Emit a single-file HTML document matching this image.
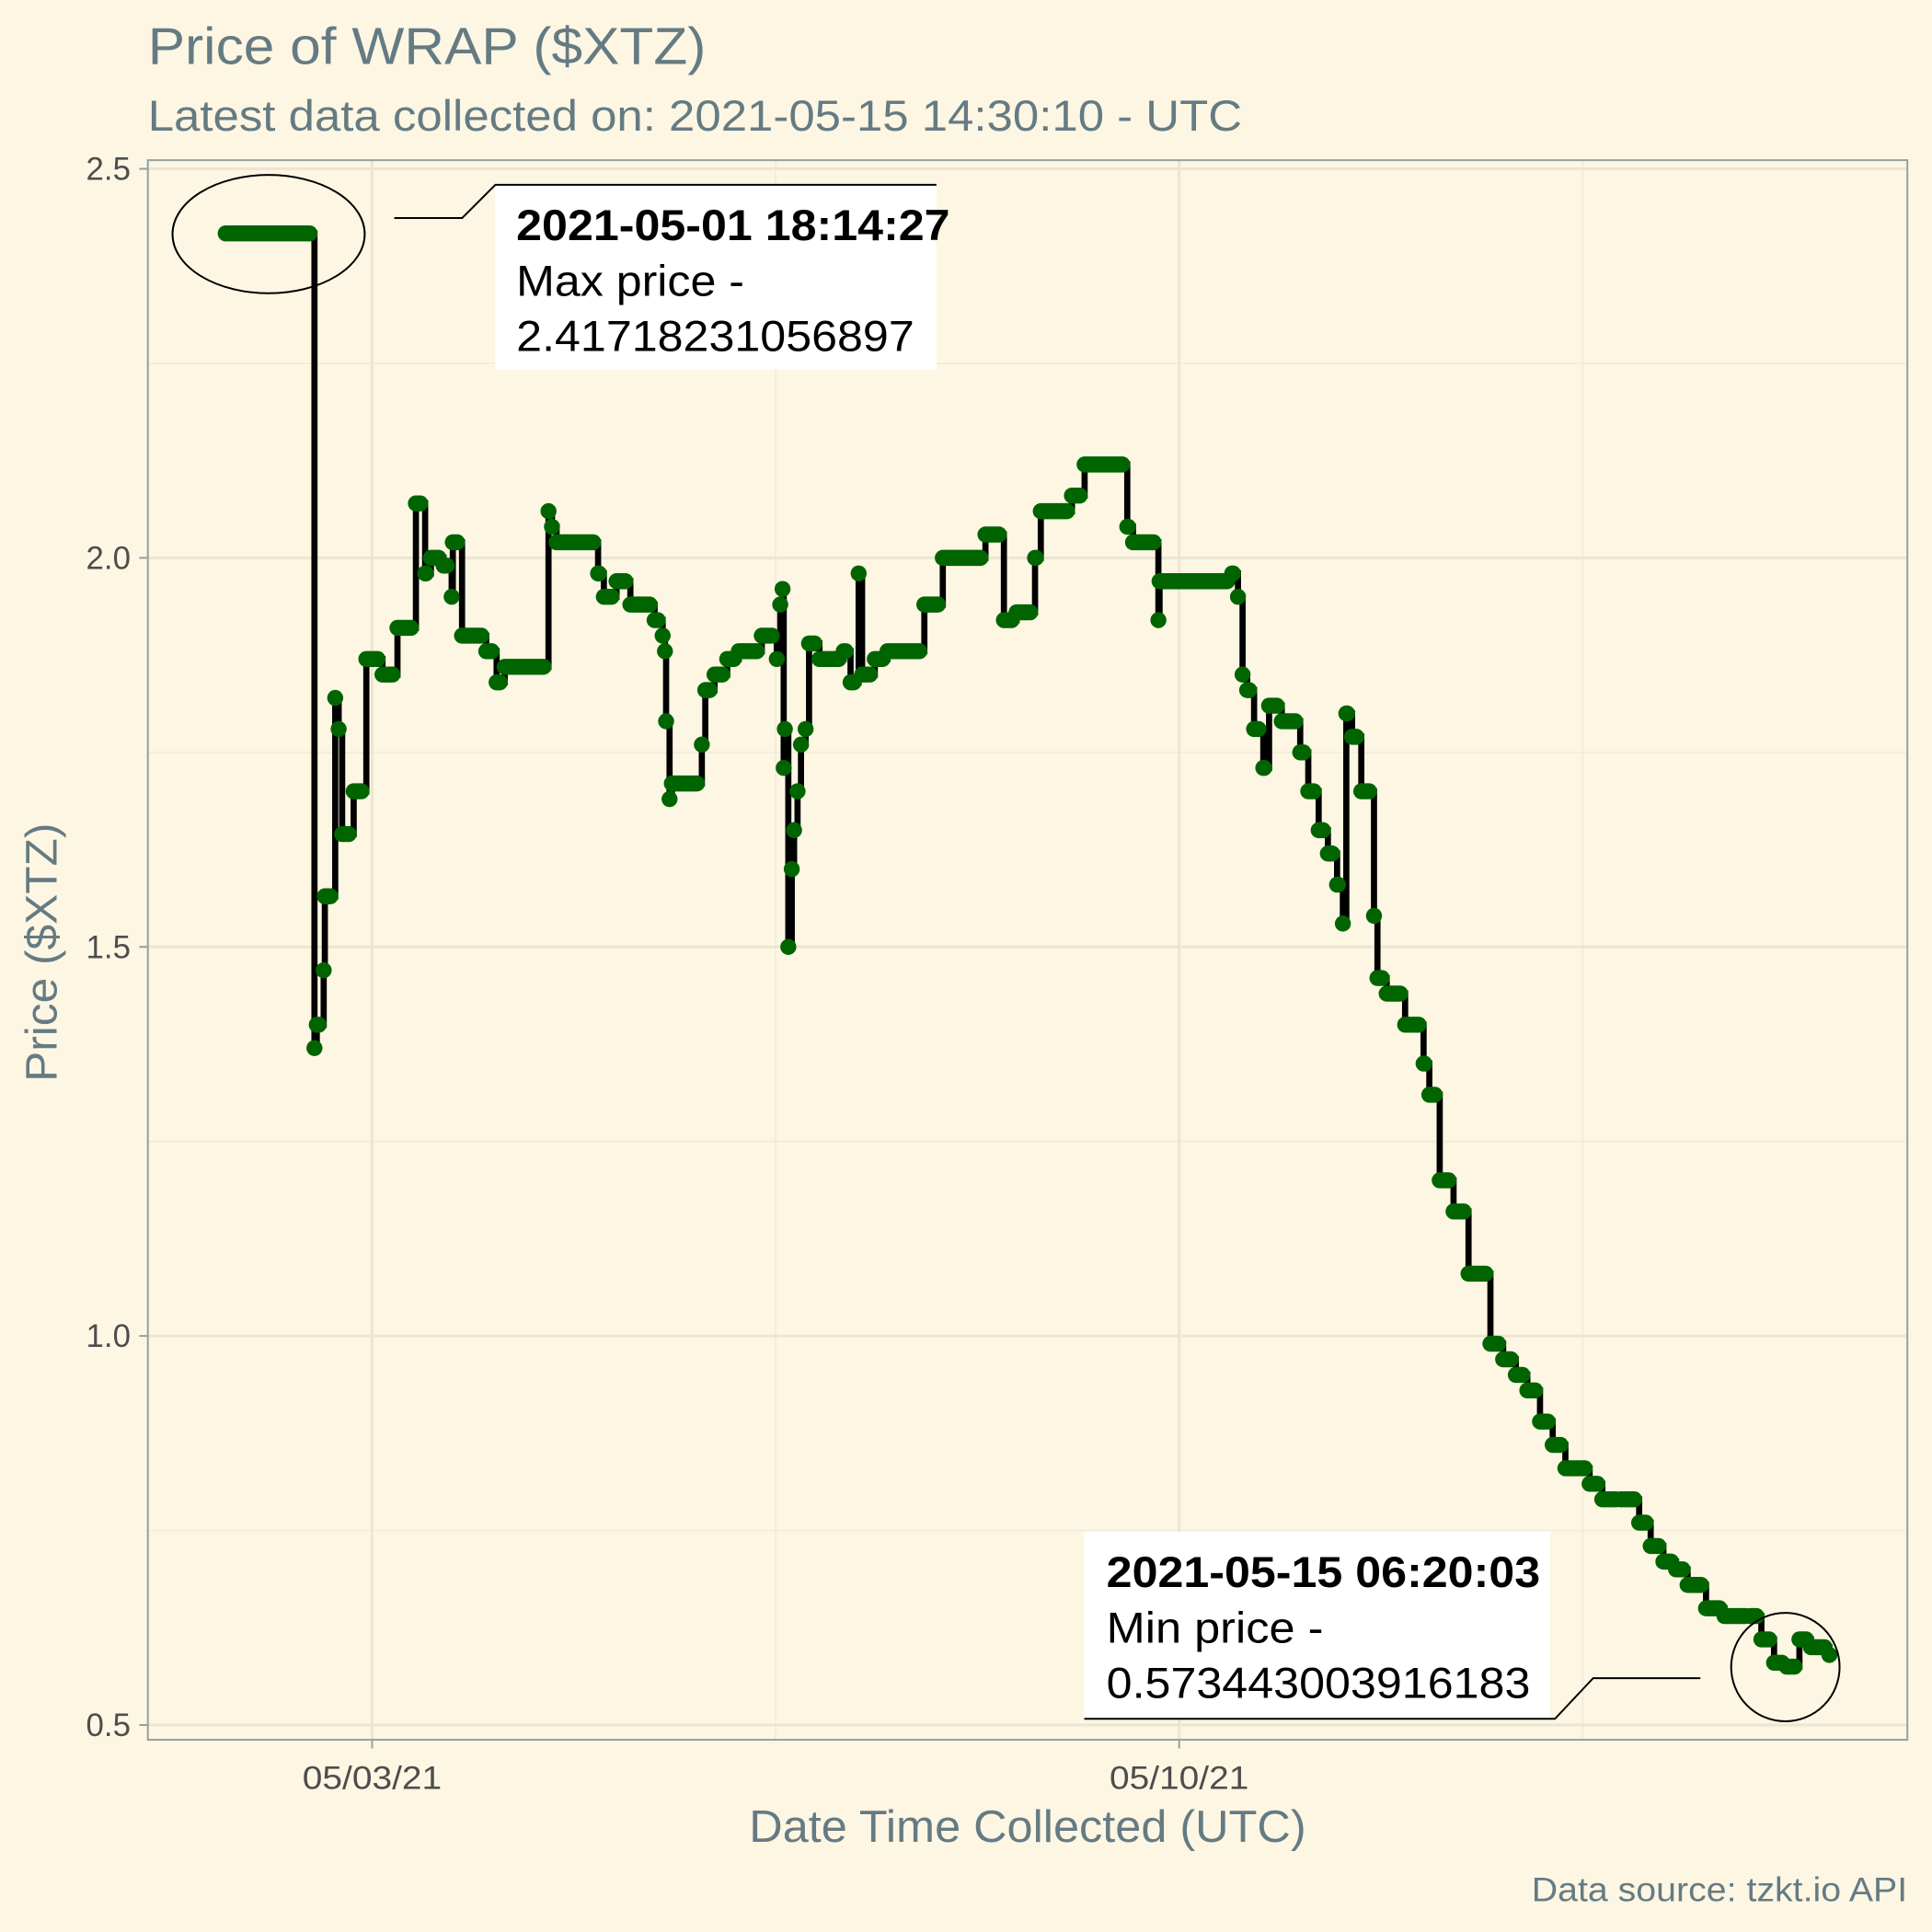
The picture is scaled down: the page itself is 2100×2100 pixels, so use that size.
<!DOCTYPE html>
<html><head><meta charset="utf-8"><style>
html,body{margin:0;padding:0;background:#fdf6e3;}
svg{display:block;font-family:"Liberation Sans",Arial,sans-serif;}
</style></head><body>
<svg id="chart" width="2100" height="2100" viewBox="0 0 1568 1568" xmlns="http://www.w3.org/2000/svg">
<rect x="0" y="0" width="1568" height="1568" fill="#fdf6e3"/>
<text x="120" y="52" font-size="42" fill="#657b83" textLength="453" lengthAdjust="spacingAndGlyphs">Price of WRAP ($XTZ)</text>
<text x="120" y="106" font-size="35" fill="#657b83" textLength="888" lengthAdjust="spacingAndGlyphs">Latest data collected on: 2021-05-15 14:30:10  - UTC</text>
<g id="grid"></g>
<g id="series"></g>
<rect x="120" y="130" width="1428" height="1282" fill="none" stroke="#93a1a1" stroke-width="1.5"/>
<g id="axes"></g>
<text transform="translate(46,773) rotate(-90)" text-anchor="middle" font-size="36" fill="#657b83" textLength="210" lengthAdjust="spacingAndGlyphs">Price ($XTZ)</text>
<text x="834" y="1495" text-anchor="middle" font-size="37" fill="#657b83" textLength="452" lengthAdjust="spacingAndGlyphs">Date Time Collected (UTC)</text>
<text x="1548" y="1543" text-anchor="end" font-size="28" fill="#657b83" textLength="305" lengthAdjust="spacingAndGlyphs">Data source: tzkt.io API</text>

<g>
<ellipse cx="218" cy="190" rx="78" ry="48" fill="none" stroke="#000" stroke-width="1.5"/>
<rect x="402" y="150" width="358" height="150" fill="#fff"/>
<polyline points="320,177 375,177 402,150 760,150" fill="none" stroke="#000" stroke-width="1.5"/>
<text x="419" y="195" font-size="35" font-weight="bold" fill="#000" textLength="352" lengthAdjust="spacingAndGlyphs">2021-05-01 18:14:27</text>
<text x="419" y="240" font-size="35" fill="#000" textLength="185" lengthAdjust="spacingAndGlyphs">Max price -</text>
<text x="419" y="285" font-size="35" fill="#000" textLength="323" lengthAdjust="spacingAndGlyphs">2.41718231056897</text>
</g>
<g>
<ellipse cx="1449" cy="1353" rx="44" ry="44" fill="none" stroke="#000" stroke-width="1.5"/>
<rect x="880" y="1243" width="378" height="152" fill="#fff"/>
<polyline points="1380,1362 1293,1362 1262,1395 880,1395" fill="none" stroke="#000" stroke-width="1.5"/>
<text x="898" y="1288" font-size="35" font-weight="bold" fill="#000" textLength="352" lengthAdjust="spacingAndGlyphs">2021-05-15 06:20:03</text>
<text x="898" y="1333" font-size="35" fill="#000" textLength="176" lengthAdjust="spacingAndGlyphs">Min price -</text>
<text x="898" y="1378" font-size="35" fill="#000" textLength="344" lengthAdjust="spacingAndGlyphs">0.573443003916183</text>
</g>
</svg>
<script>
// days since 2021-05-01 00:00 UTC
const times = [0.73,1.50,1.52,1.58,1.59,1.68,1.71,1.74,1.84,1.95,2.09,2.22,2.38,2.46,2.51,2.62,2.69,2.70,2.78,2.99,3.08,3.15,3.53,3.56,3.60,3.96,4.01,4.12,4.24,4.45,4.52,4.54,4.55,4.58,4.60,4.86,4.89,4.97,5.08,5.18,5.38,5.51,5.54,5.56,5.57,5.58,5.61,5.64,5.66,5.69,5.72,5.76,5.79,5.88,6.09,6.15,6.22,6.25,6.36,6.47,6.79,6.95,7.32,7.48,7.59,7.75,7.80,8.07,8.18,8.55,8.60,8.82,8.83,9.46,9.51,9.55,9.59,9.65,9.73,9.78,9.89,10.05,10.12,10.21,10.29,10.37,10.42,10.45,10.50,10.58,10.69,10.72,10.80,10.96,11.12,11.17,11.26,11.38,11.51,11.70,11.81,11.92,12.02,12.13,12.24,12.35,12.56,12.67,12.83,12.99,13.09,13.20,13.31,13.41,13.57,13.73,13.95,14.05,14.16,14.27,14.38,14.48,14.64];
const prices = [2.417,1.37,1.40,1.47,1.565,1.82,1.78,1.645,1.70,1.87,1.85,1.91,2.07,1.98,2.00,1.99,1.95,2.02,1.90,1.88,1.84,1.86,2.06,2.04,2.02,1.98,1.95,1.97,1.94,1.92,1.90,1.88,1.79,1.69,1.71,1.76,1.83,1.85,1.87,1.88,1.90,1.87,1.94,1.96,1.73,1.78,1.50,1.60,1.65,1.70,1.76,1.78,1.89,1.87,1.88,1.84,1.98,1.85,1.87,1.88,1.94,2.00,2.03,1.92,1.93,2.00,2.06,2.08,2.12,2.04,2.02,1.92,1.97,1.98,1.95,1.85,1.83,1.78,1.73,1.81,1.79,1.75,1.70,1.65,1.62,1.58,1.53,1.80,1.77,1.70,1.54,1.46,1.44,1.40,1.35,1.31,1.20,1.16,1.08,0.99,0.97,0.95,0.93,0.89,0.86,0.83,0.81,0.79,0.79,0.76,0.73,0.71,0.70,0.68,0.65,0.64,0.64,0.61,0.58,0.575,0.61,0.60,0.59];
const yMajorTicks = [0.5,1.0,1.5,2.0,2.5];
const yTickLabels = ["0.5","1.0","1.5","2.0","2.5"];
const yMinorTicks = [0.75,1.25,1.75,2.25];
const xMajorTicks = [2,9];
const xTickLabels = ["05/03/21","05/10/21"];
const xMinorTicks = [5.5,12.5];

const NS="http://www.w3.org/2000/svg";
const yScale = v => 1400 - (v - 0.5) * 631.5;
const xScale = d => 302 + (d - 2) * 93.57;
function mk(tag, attrs, parent){const e=document.createElementNS(NS,tag);for(const k in attrs)e.setAttribute(k,attrs[k]);parent.appendChild(e);return e;}
const grid=document.getElementById('grid'), axes=document.getElementById('axes'), series=document.getElementById('series');

yMinorTicks.forEach(v=>{const l=mk('line',{x1:120,x2:1548,y1:yScale(v),y2:yScale(v),stroke:'#f1ebdb','stroke-width':1.2},grid);

});
xMinorTicks.forEach(v=>{const l=mk('line',{x1:xScale(v),x2:xScale(v),y1:130,y2:1412,stroke:'#f1ebdb','stroke-width':1.2},grid);

});
yMajorTicks.forEach((v,i)=>{const y=yScale(v);
const l=mk('line',{x1:120,x2:1548,y1:y,y2:y,stroke:'#ece5d3','stroke-width':2.2},grid);


const t=mk('line',{x1:113,x2:120,y1:y,y2:y,stroke:'#93a1a1','stroke-width':1.5},axes);


const tx=mk('text',{x:106,y:y+9,'text-anchor':'end','font-size':26,fill:'#4d4d4d'},axes);tx.textContent=yTickLabels[i];

});
xMajorTicks.forEach((v,i)=>{const x=xScale(v);
const l=mk('line',{x1:x,x2:x,y1:130,y2:1412,stroke:'#ece5d3','stroke-width':2.2},grid);


const t=mk('line',{x1:x,x2:x,y1:1412,y2:1419,stroke:'#93a1a1','stroke-width':1.5},axes);


const tx=mk('text',{x:x,y:1452,'text-anchor':'middle','font-size':26,fill:'#4d4d4d',textLength:113,lengthAdjust:'spacingAndGlyphs'},axes);tx.textContent=xTickLabels[i];

});

// black step line
let d='M'+xScale(times[0])+','+yScale(prices[0]);
for(let i=1;i<times.length;i++){d+=' H'+xScale(times[i])+' V'+yScale(prices[i]);}
const path=mk('path',{d:d,fill:'none',stroke:'#000','stroke-width':5},series);


// green point runs
for(let i=0;i<times.length;i++){
  const x1=xScale(times[i]), y=yScale(prices[i]);
  const x2=i<times.length-1?xScale(times[i+1]):x1;
  const s=mk('line',{x1:x1,x2:Math.max(x1,x2-4),y1:y,y2:y,stroke:'#006400','stroke-width':13,'stroke-linecap':'round'},series);
  
  
}
</script>
</body></html>
